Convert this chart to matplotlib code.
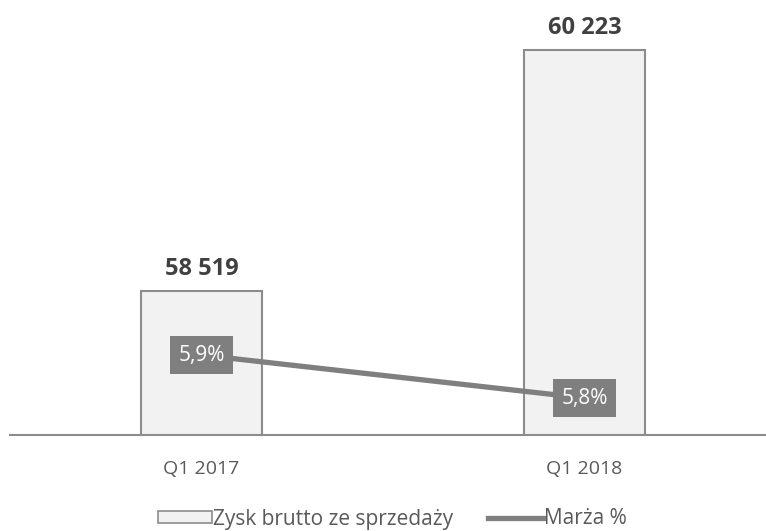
import matplotlib
matplotlib.use("Agg")
import matplotlib.pyplot as plt
from matplotlib.patches import Patch
from matplotlib.lines import Line2D

plt.rcParams["font.family"] = ["Open Sans", "DejaVu Sans"]

categories = ["Q1 2017", "Q1 2018"]
gross_profit = [58519, 60223]
margin_pct = [5.9, 5.8]

bar_fill = "#f2f2f2"
bar_edge = "#8c8c8c"
line_color = "#7f7f7f"
text_color = "#404040"
tick_color = "#595959"

fig = plt.figure(figsize=(7.66, 5.31), dpi=100)
ax = fig.add_axes([10 / 766, 96 / 531, 756 / 766, 435 / 531])

x = list(range(len(categories)))
ax.bar(x, gross_profit, width=0.316, color=bar_fill, edgecolor=bar_edge,
       linewidth=1.5, zorder=2)
ax.set_xlim(-0.5, 756 / 383 - 0.5)
ax.set_ylim(57500, 60576)

for xi, v in zip(x, gross_profit):
    ax.annotate(f"{v:,}".replace(",", " "), (xi, v), xytext=(0, 7),
                textcoords="offset points", ha="center", va="bottom",
                fontsize=17, fontweight="bold", color=text_color)

for s in ["top", "right", "left"]:
    ax.spines[s].set_visible(False)
ax.spines["bottom"].set_color("#8c8c8c")
ax.spines["bottom"].set_linewidth(1.5)
ax.set_yticks([])
ax.set_xticks(x)
ax.set_xticklabels(categories, fontsize=14, color=tick_color)
ax.tick_params(axis="x", length=0, pad=18)

# margin on a secondary axis
ax2 = ax.twinx()
ax2.set_ylim(5.714, 6.726)
ax2.plot(x, margin_pct, color=line_color, linewidth=3.8, zorder=3,
         solid_capstyle="butt")
for xi, m in zip(x, margin_pct):
    ax2.text(xi, m, f"{m:.1f}%".replace(".", ","), ha="center", va="center",
             fontsize=15, color="white", zorder=4,
             bbox=dict(boxstyle="square,pad=0.42", facecolor=line_color,
                       edgecolor="none"))
ax2.set_yticks([])
for s in ax2.spines.values():
    s.set_visible(False)

handles = [
    Patch(facecolor=bar_fill, edgecolor=bar_edge, linewidth=1.2),
    Line2D([0], [0], color=line_color, linewidth=3.8),
]
fig.legend(handles, ["Zysk brutto ze sprzedaży", "Marża %"],
           loc="center", bbox_to_anchor=(392 / 766, 12 / 531), ncol=2,
           frameon=False, fontsize=15, labelcolor=tick_color,
           handlelength=2.6, handleheight=0.5, handletextpad=0.05,
           columnspacing=1.7)

fig.savefig("out.png", dpi=100)
